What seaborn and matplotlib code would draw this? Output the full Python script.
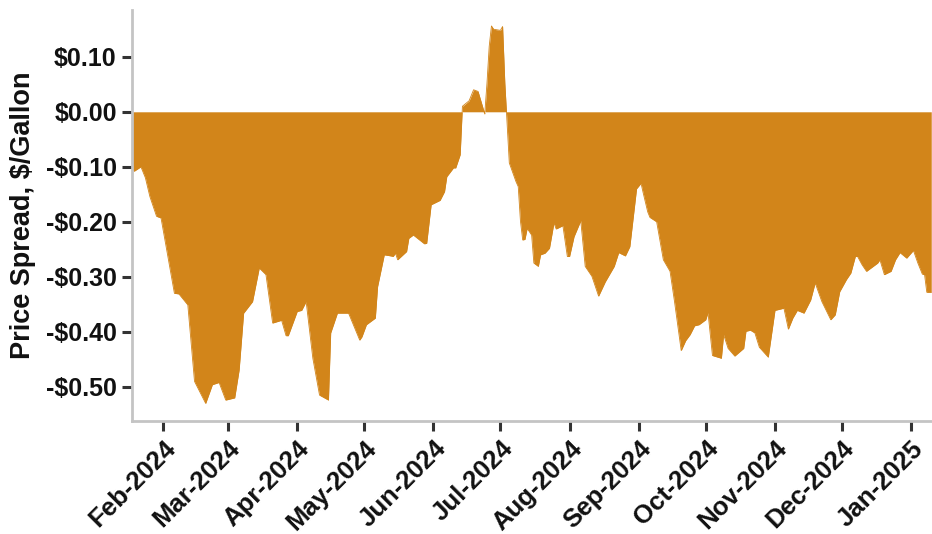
import matplotlib
matplotlib.use("Agg")
import matplotlib.pyplot as plt
import matplotlib.dates as mdates
import matplotlib.ticker as mticker
import numpy as np
import pandas as pd
import seaborn as sns

dates = [
    "2024-01-18", "2024-01-19", "2024-01-22", "2024-01-24", "2024-01-26", "2024-01-29", "2024-01-31",
    "2024-02-06", "2024-02-08", "2024-02-12", "2024-02-15", "2024-02-20", "2024-02-23", "2024-02-26",
    "2024-02-29", "2024-03-04", "2024-03-06", "2024-03-08", "2024-03-12", "2024-03-15", "2024-03-18",
    "2024-03-21", "2024-03-25", "2024-03-27", "2024-03-28", "2024-04-01", "2024-04-03", "2024-04-05",
    "2024-04-08", "2024-04-11", "2024-04-15", "2024-04-16", "2024-04-17", "2024-04-19", "2024-04-24",
    "2024-04-29", "2024-04-30", "2024-05-02", "2024-05-06", "2024-05-07", "2024-05-10", "2024-05-13",
    "2024-05-14", "2024-05-15", "2024-05-16", "2024-05-20", "2024-05-21", "2024-05-23", "2024-05-28",
    "2024-05-29", "2024-05-31", "2024-06-04", "2024-06-06", "2024-06-07", "2024-06-10", "2024-06-11",
    "2024-06-13", "2024-06-14", "2024-06-17", "2024-06-19", "2024-06-21", "2024-06-24", "2024-06-25",
    "2024-06-26", "2024-06-27", "2024-06-28", "2024-07-01", "2024-07-02", "2024-07-03", "2024-07-05",
    "2024-07-08", "2024-07-09", "2024-07-10", "2024-07-11", "2024-07-12", "2024-07-13", "2024-07-15",
    "2024-07-16", "2024-07-18", "2024-07-19", "2024-07-21", "2024-07-23", "2024-07-25", "2024-07-26",
    "2024-07-29", "2024-07-31", "2024-08-01", "2024-08-03", "2024-08-06", "2024-08-08", "2024-08-11",
    "2024-08-14", "2024-08-17", "2024-08-21", "2024-08-23", "2024-08-26", "2024-08-28", "2024-08-31",
    "2024-09-02", "2024-09-03", "2024-09-05", "2024-09-06", "2024-09-09", "2024-09-12", "2024-09-15",
    "2024-09-17", "2024-09-20", "2024-09-22", "2024-09-24", "2024-09-26", "2024-09-28", "2024-10-01",
    "2024-10-02", "2024-10-04", "2024-10-08", "2024-10-09", "2024-10-11", "2024-10-14", "2024-10-18",
    "2024-10-19", "2024-10-21", "2024-10-23", "2024-10-25", "2024-10-29", "2024-11-01", "2024-11-05",
    "2024-11-07", "2024-11-09", "2024-11-11", "2024-11-14", "2024-11-17", "2024-11-19", "2024-11-22",
    "2024-11-26", "2024-11-28", "2024-11-30", "2024-12-03", "2024-12-05", "2024-12-07", "2024-12-08",
    "2024-12-10", "2024-12-12", "2024-12-15", "2024-12-17", "2024-12-18", "2024-12-20", "2024-12-23",
    "2024-12-25", "2024-12-27", "2024-12-30", "2025-01-02", "2025-01-04", "2025-01-06", "2025-01-07",
    "2025-01-08", "2025-01-10",
]

spread = [
    -0.105, -0.108, -0.100, -0.120, -0.154, -0.190, -0.193,
    -0.330, -0.331, -0.351, -0.490, -0.530, -0.496, -0.492,
    -0.524, -0.520, -0.469, -0.366, -0.345, -0.284, -0.296,
    -0.384, -0.379, -0.407, -0.407, -0.363, -0.361, -0.345,
    -0.448, -0.515, -0.524, -0.402, -0.390, -0.366, -0.366,
    -0.415, -0.409, -0.387, -0.375, -0.318, -0.260, -0.262,
    -0.263, -0.257, -0.269, -0.254, -0.230, -0.224, -0.240,
    -0.239, -0.169, -0.161, -0.145, -0.118, -0.102, -0.102,
    -0.078, 0.010, 0.020, 0.040, 0.037, -0.004, 0.052,
    0.119, 0.156, 0.150, 0.148, 0.155, 0.052, -0.093,
    -0.127, -0.136, -0.199, -0.233, -0.232, -0.212, -0.224,
    -0.275, -0.281, -0.260, -0.257, -0.248, -0.202, -0.213,
    -0.207, -0.263, -0.263, -0.227, -0.198, -0.281, -0.299,
    -0.335, -0.309, -0.281, -0.256, -0.262, -0.245, -0.140,
    -0.130, -0.148, -0.182, -0.192, -0.200, -0.269, -0.290,
    -0.345, -0.434, -0.416, -0.405, -0.389, -0.387, -0.378,
    -0.365, -0.443, -0.448, -0.405, -0.430, -0.444, -0.430,
    -0.399, -0.397, -0.402, -0.428, -0.446, -0.361, -0.357,
    -0.395, -0.375, -0.361, -0.366, -0.342, -0.311, -0.345,
    -0.378, -0.369, -0.327, -0.305, -0.293, -0.263, -0.263,
    -0.278, -0.290, -0.281, -0.275, -0.269, -0.296, -0.290,
    -0.269, -0.256, -0.266, -0.252, -0.275, -0.295, -0.296,
    -0.328, -0.328,
]

y_ticks = [-0.5, -0.4, -0.3, -0.2, -0.1, 0.0, 0.1]
y_label = "Price Spread, $/Gallon"
fill_color = "#D2851A"
text_color = "#111111"

df = pd.DataFrame({"date": pd.to_datetime(dates), "spread": spread})

sns.set_theme(style="ticks")
plt.rcParams["font.family"] = ["Liberation Sans", "DejaVu Sans"]

fig = plt.figure(figsize=(9.32, 5.34), dpi=100)
ax = fig.add_axes([132 / 932, 1 - 421 / 534, 800 / 932, 411 / 534])

sns.lineplot(data=df, x="date", y="spread", ax=ax, color=fill_color, linewidth=0.6)
xnum = mdates.date2num(df["date"])
ax.fill_between(xnum, df["spread"].to_numpy(), 0, interpolate=True,
                color=fill_color, linewidth=0)

ax.set_xlim(pd.Timestamp("2024-01-18"), pd.Timestamp("2025-01-10 08:00"))
ax.set_ylim(-0.562, 0.185)

ax.xaxis.set_major_locator(mdates.MonthLocator(bymonthday=1))
ax.xaxis.set_major_formatter(mdates.DateFormatter("%b-%Y"))
ax.set_yticks(y_ticks)
ax.yaxis.set_major_formatter(mticker.FuncFormatter(
    lambda v, p: ("-$%.2f" % abs(v)) if v < -1e-9 else ("$%.2f" % abs(v))))

for lab in ax.get_xticklabels():
    lab.set_rotation(45)
    lab.set_ha("right")
    lab.set_rotation_mode("anchor")
    lab.set_fontweight("bold")
    lab.set_fontsize(18.5)
    lab.set_color(text_color)
for lab in ax.get_yticklabels():
    lab.set_fontweight("bold")
    lab.set_fontsize(18)
    lab.set_color(text_color)

ax.tick_params(axis="both", length=7, width=2.2, color="#333333", pad=4)
ax.set_xlabel("")
ax.set_ylabel(y_label, fontsize=19.5, fontweight="bold", color=text_color)
ax.yaxis.set_label_coords(-0.12, 0.5)

sns.despine(ax=ax)
for s in ["left", "bottom"]:
    ax.spines[s].set_color("#c4c4c4")
    ax.spines[s].set_linewidth(2)
ax.grid(False)

fig.savefig("out.png", dpi=100)
